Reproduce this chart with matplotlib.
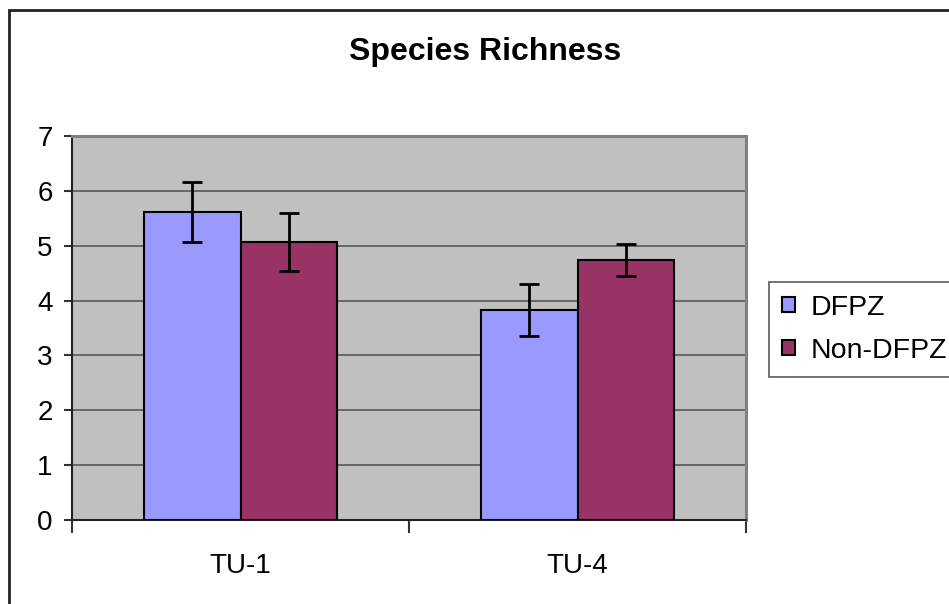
import matplotlib
matplotlib.use('Agg')
import matplotlib.pyplot as plt
import numpy as np
from matplotlib.patches import Rectangle

# data
sites = ['TU-1', 'TU-4']
series = ['DFPZ', 'Non-DFPZ']
dfpz_mean = [5.62, 3.83]
dfpz_err = [0.55, 0.48]
non_dfpz_mean = [5.06, 4.74]
non_dfpz_err = [0.53, 0.29]
colors = ['#9999FF', '#993366']

plt.rcParams['font.family'] = ['Liberation Sans', 'DejaVu Sans']

fig = plt.figure(figsize=(9.49, 6.04), dpi=100)
W, H = 949, 604
ax = fig.add_axes([72 / W, 1 - 520 / H, (746 - 72) / W, (520 - 136) / H])
ax.set_facecolor('#C0C0C0')

x = np.arange(len(sites))
width = 1 / 3.5
for i, (means, errs) in enumerate([(dfpz_mean, dfpz_err), (non_dfpz_mean, non_dfpz_err)]):
    pos = x + (i - 0.5) * width
    ax.bar(pos, means, width, color=colors[i], edgecolor='black', linewidth=1.5,
           label=series[i], zorder=3)
    ax.errorbar(pos, means, yerr=errs, fmt='none', ecolor='black', elinewidth=2,
                capsize=7.5, capthick=2, zorder=4)

ax.set_xlim(-0.5, 1.5)
ax.set_ylim(0, 7)
ax.set_yticks(range(0, 8))
ax.yaxis.grid(True, color='#606060', linewidth=1.3, zorder=1)
ax.set_axisbelow(True)

ax.set_xticks(x)
ax.set_xticklabels(sites)
ax.set_xticks([-0.5, 0.5, 1.5], minor=True)
ax.tick_params(axis='x', which='major', length=0, pad=24, labelsize=20)
ax.tick_params(axis='x', which='minor', length=9, width=1.5, color='#333333')
ax.tick_params(axis='y', length=6, width=1.5, color='#333333', labelsize=20, pad=8)

for s in ['left', 'bottom']:
    ax.spines[s].set_color('#222222')
    ax.spines[s].set_linewidth(1.5)
for s in ['top', 'right']:
    ax.spines[s].set_color('#808080')
    ax.spines[s].set_linewidth(2.2)

fig.text(485 / W, 1 - 52 / H, 'Species Richness', ha='center', va='center',
         fontsize=23, fontweight='bold')

leg = fig.legend(loc='upper left', bbox_to_anchor=(769 / W, 1 - 282 / H),
                 fontsize=20.5, frameon=True, fancybox=False, shadow=False,
                 handlelength=0.45, handleheight=0.45, handletextpad=0.55,
                 labelspacing=0.6, borderpad=0.45, borderaxespad=0)
leg.get_frame().set_edgecolor('#333333')
leg.get_frame().set_linewidth(1.2)

# outer chart border (only left and top are visible)
fig.add_artist(Rectangle((8.5 / W, -0.1), 1.2, 1.1 - 10 / H, transform=fig.transFigure,
                         fill=False, edgecolor='#222222', linewidth=2))

fig.savefig('out.png', dpi=100)
